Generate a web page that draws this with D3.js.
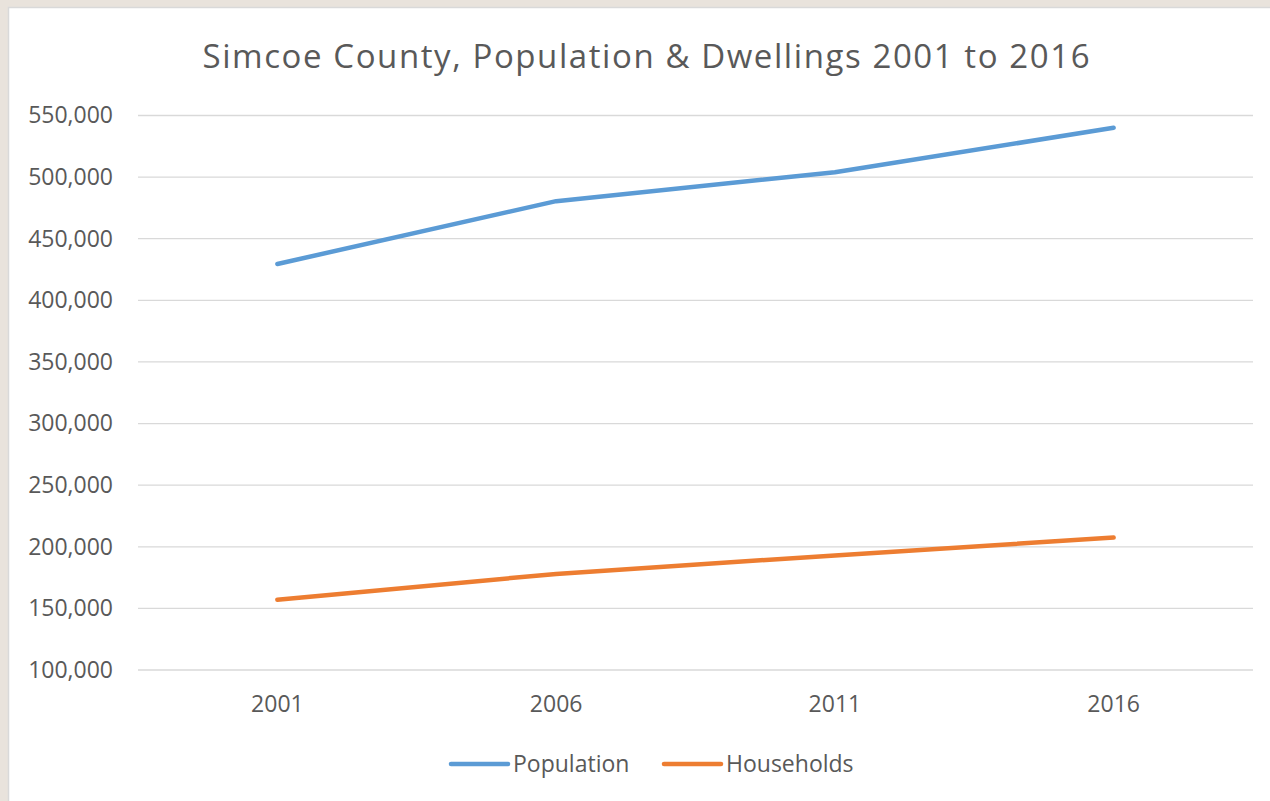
<!DOCTYPE html>
<html>
<head>
<meta charset="utf-8">
<script src="https://cdn.jsdelivr.net/npm/d3@7"></script>
<style>
  body { margin: 0; background: #e9e3dc; }
  svg { display: block; font-family: "Open Sans", "Liberation Sans", sans-serif; }
</style>
</head>
<body>
<div id="chart"></div>
<script>
const years = ["2001", "2006", "2011", "2016"];
const population = [429500, 480500, 504000, 540000];
const households = [157000, 178000, 193000, 207500];
const yTicks = [100000, 150000, 200000, 250000, 300000, 350000, 400000, 450000, 500000, 550000];
const seriesNames = ["Population", "Households"];
const seriesColors = ["#5b9bd5", "#ed7d31"];

const W = 1270, H = 801;
const svg = d3.select("#chart").append("svg")
    .attr("width", W)
    .attr("height", H);

// white chart panel
svg.append("rect")
    .attr("x", 8.5).attr("y", 7.5)
    .attr("width", W).attr("height", H)
    .attr("fill", "#fff")
    .attr("stroke", "#d9d9d9")
    .attr("stroke-width", 1.5);

const plot = {left: 138, right: 1253, top: 115.5, bottom: 670};

const x = d3.scaleBand().domain(years).range([plot.left, plot.right]);
const y = d3.scaleLinear().domain([100000, 550000]).range([plot.bottom, plot.top]);

svg.append("text")
    .attr("x", 646)
    .attr("y", 68)
    .attr("text-anchor", "middle")
    .attr("font-size", 33)
    .attr("fill", "#595959")
    .attr("textLength", 887)
    .text("Simcoe County, Population & Dwellings 2001 to 2016");

// gridlines
svg.append("g").selectAll("line")
    .data(yTicks)
    .join("line")
    .attr("x1", plot.left).attr("x2", plot.right)
    .attr("y1", d => y(d)).attr("y2", d => y(d))
    .attr("stroke", "#d9d9d9")
    .attr("stroke-width", 1.3);

const yAxis = svg.append("g")
    .attr("transform", `translate(${plot.left},0)`)
    .call(d3.axisLeft(y).tickValues(yTicks).tickFormat(d3.format(",")).tickSize(0).tickPadding(25));
yAxis.select(".domain").remove();
yAxis.selectAll("text")
    .attr("font-size", 23)
    .attr("font-family", "\"Open Sans\", sans-serif")
    .attr("fill", "#595959");

const xAxis = svg.append("g")
    .attr("transform", `translate(0,${plot.bottom})`)
    .call(d3.axisBottom(x).tickSize(0).tickPadding(26));
xAxis.select(".domain").remove();
xAxis.selectAll("text")
    .attr("font-size", 23)
    .attr("font-family", "\"Open Sans\", sans-serif")
    .attr("fill", "#595959");

const line = d3.line()
    .x((d, i) => x(years[i]) + x.bandwidth() / 2)
    .y(d => y(d));

[population, households].forEach((vals, i) => {
    svg.append("path")
        .datum(vals)
        .attr("d", line)
        .attr("fill", "none")
        .attr("stroke", seriesColors[i])
        .attr("stroke-width", 4.5)
        .attr("stroke-linecap", "round")
        .attr("stroke-linejoin", "round");
});

// legend
const legendX = [451, 664];
const legend = svg.append("g");
seriesNames.forEach((name, i) => {
    legend.append("line")
        .attr("x1", legendX[i]).attr("x2", legendX[i] + 57)
        .attr("y1", 764).attr("y2", 764)
        .attr("stroke", seriesColors[i])
        .attr("stroke-width", 4.5)
        .attr("stroke-linecap", "round");
    legend.append("text")
        .attr("x", legendX[i] + 62)
        .attr("y", 772)
        .attr("font-size", 23)
        .attr("fill", "#595959")
        .text(name);
});
</script>
</body>
</html>
